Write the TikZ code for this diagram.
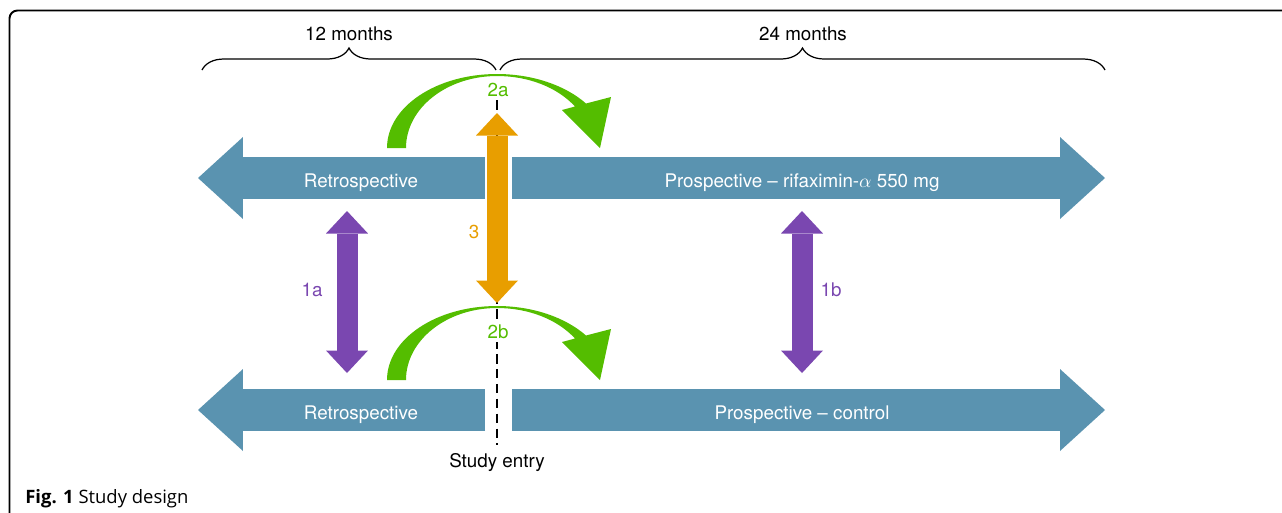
\documentclass[tikz,border=0pt]{standalone}
\usepackage{fontspec}
\setmainfont{TeX Gyre Heros}
\newfontfamily\captionfont{Open Sans}
\usepackage{xcolor}
\definecolor{colorPhase}{RGB}{90,147,176}
\definecolor{colorSwitch}{RGB}{84,189,0}
\definecolor{colorCompare}{RGB}{122,71,176}
\definecolor{colorEntry}{RGB}{232,158,0}
\usetikzlibrary{arrows.meta, decorations.pathreplacing, positioning}
\tikzset{
  tipPhase/.tip={Triangle[width=1.64cm, length=0.9cm, line width=0pt]},
  tipCompare/.tip={Triangle[width=0.84cm, length=0.45cm, line width=0pt]},
}

\begin{document}
\begin{tikzpicture}[x=0.02cm, y=-0.02cm, font=\fontsize{10.7}{12}\selectfont,
  phase/.style={colorPhase, line width=0.84cm, -tipPhase},
  compare/.style={colorCompare, line width=0.42cm, tipCompare-tipCompare},
  entry/.style={colorEntry, line width=0.42cm, tipCompare-tipCompare},
  period/.style={decorate, decoration={brace, amplitude=0.44cm}, line width=0.7pt},
  lbl/.style={anchor=base, inner sep=0pt}]
\clip (0,0) rectangle (1282,512);
\draw[line width=1.1pt, rounded corners=4.5pt] (9.5,530) -- (9.5,10.5) -- (1300,10.5);
% study entry line
\coordinate (entryTop) at (497,100);
\coordinate (entryBot) at (497,445);
\draw[line width=0.8pt, dash pattern=on 5.5pt off 3pt] (entryTop) -- (entryBot);
% time spans
\coordinate (spanL) at (202,70);
\coordinate (spanM) at (496,70);
\coordinate (spanN) at (500,70);
\coordinate (spanR) at (1105,70);
\draw[period] (spanL) -- (spanM);
\draw[period] (spanN) -- (spanR);
\node[lbl] (twelve) at (349,40) {12 months};
\node[lbl] (twentyfour) at (803,40) {24 months};
% bars
\coordinate (retroTopEnd) at (485,178);
\coordinate (retroTopTip) at (198,178);
\coordinate (prospTopEnd) at (512,178);
\coordinate (prospTopTip) at (1105,178);
\coordinate (retroBotEnd) at (485,410);
\coordinate (retroBotTip) at (198,410);
\coordinate (prospBotEnd) at (512,410);
\coordinate (prospBotTip) at (1105,410);
\draw[phase] (retroTopEnd) -- (retroTopTip);
\draw[phase] (prospTopEnd) -- (prospTopTip);
\draw[phase] (retroBotEnd) -- (retroBotTip);
\draw[phase] (prospBotEnd) -- (prospBotTip);
\node[lbl, text=white] (retroTop) at (361,187) {Retrospective};
\node[lbl, text=white] (prospTop) at (802,187) {Prospective – rifaximin-$\alpha$ 550 mg};
\node[lbl, text=white] (retroBot) at (361,419) {Retrospective};
\node[lbl, text=white] (prospBot) at (802,419) {Prospective – control};
% switches
\fill[colorSwitch] (387,148) .. controls (387,107) and (436,74) .. (497,74) .. controls (532,74) and (565,85) .. (586,103.5) -- (611,97) -- (600,148) -- (562,110) -- (575,106.5) .. controls (557,87) and (528,76) .. (497,76) .. controls (447,76) and (406,108) .. (406,148) -- cycle;
\fill[colorSwitch, shift={(0,232)}] (387,148) .. controls (387,107) and (436,74) .. (497,74) .. controls (532,74) and (565,85) .. (586,103.5) -- (611,97) -- (600,148) -- (562,110) -- (575,106.5) .. controls (557,87) and (528,76) .. (497,76) .. controls (447,76) and (406,108) .. (406,148) -- cycle;
\node[lbl, text=colorSwitch, fill=white, inner sep=2pt] (twoA) at (498,96) {2a};
\node[lbl, text=colorSwitch, fill=white, inner sep=2pt] (twoB) at (498,338) {2b};
% comparisons
\coordinate (cmpAtop) at (347,211);
\coordinate (cmpAbot) at (347,373);
\coordinate (cmpBtop) at (802,211);
\coordinate (cmpBbot) at (802,373);
\coordinate (entA) at (497,113);
\coordinate (entB) at (497,303);
\draw[compare] (cmpAtop) -- (cmpAbot);
\draw[compare] (cmpBtop) -- (cmpBbot);
\draw[entry] (entA) -- (entB);
\node[lbl, text=colorCompare] (oneA) at (312,296) {1a};
\node[lbl, text=colorCompare] (oneB) at (831,296) {1b};
\node[lbl, text=colorEntry] (three) at (474,238) {3};
\node[lbl] (studyEntry) at (497,467) {Study entry};
\node[anchor=base west, inner sep=0pt, font=\captionfont\fontsize{10.5}{12}\selectfont] (caption) at (25,503) {\textbf{Fig. 1} Study design};
\end{tikzpicture}
\end{document}
